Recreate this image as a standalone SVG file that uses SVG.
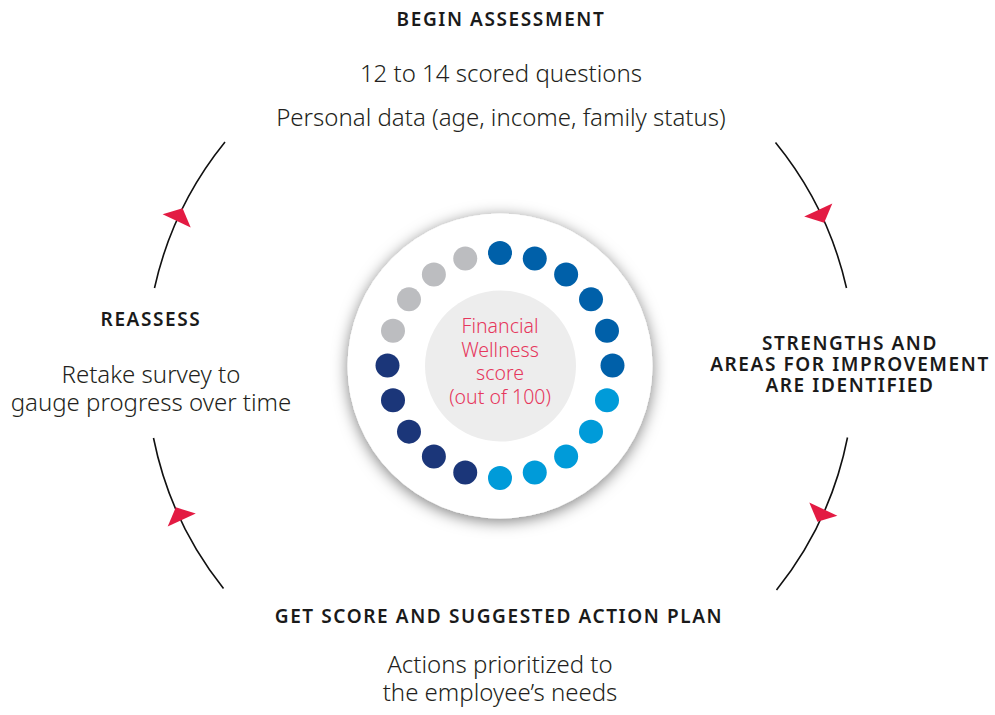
<svg xmlns="http://www.w3.org/2000/svg" width="995" height="715" viewBox="0 0 995 715">
  <defs>
    <style>
      .head { font-family: "Noto Sans", "Open Sans", sans-serif; font-weight: 600; font-size: 19px; letter-spacing: 1.6px; fill: #1a1a1a; text-anchor: middle; }
      .body { font-family: "Noto Sans", "Open Sans", sans-serif; font-weight: 300; font-size: 24px; fill: #231f20; text-anchor: middle; }
      .core { font-family: "Noto Sans", "Open Sans", sans-serif; font-weight: 300; font-size: 19.5px; fill: #E6375C; text-anchor: middle; }
      .arc { fill: none; stroke: #111; stroke-width: 1.6; }
      .tip { fill: #E31B43; }
      .mid { fill: #0060A9; }
      .light { fill: #009BD9; }
      .navy { fill: #1B3679; }
      .grey { fill: #BCBDC0; }
    </style>
    <filter id="halo" x="-30%" y="-30%" width="160%" height="160%">
      <feDropShadow dx="0" dy="3" stdDeviation="7.5" flood-color="#000" flood-opacity="0.5"/>
    </filter>
    <!-- red wedge, tip pointing along local -y -->
    <path id="wedge" class="tip" d="M0,-8 L15.5,6 L-15.5,6 Z"/>
  </defs>

  <rect width="995" height="715" fill="#fff"/>

  <!-- cycle connectors: arcs of one large circle with red direction wedges -->
  <g id="connectors">
    <path class="arc" d="M775.5,142.5 A354,354 0 0 1 846.5,288"/>
    <path class="arc" d="M847.5,437.5 A354,354 0 0 1 776.5,590"/>
    <path class="arc" d="M223.5,588.5 A354,354 0 0 1 153.5,438"/>
    <path class="arc" d="M154.5,288 A354,354 0 0 1 225,142"/>
    <use href="#wedge" transform="translate(820.8,215.4) rotate(155)"/>
    <use href="#wedge" transform="translate(820.8,514.6) rotate(205)"/>
    <use href="#wedge" transform="translate(179.2,514.6) rotate(335)"/>
    <use href="#wedge" transform="translate(179.2,215.4) rotate(25)"/>
  </g>

  <!-- centre dial -->
  <g id="score-dial">
    <circle cx="500" cy="366" r="152.5" fill="#fff" filter="url(#halo)"/>
    <circle cx="500.5" cy="366" r="75.5" fill="#EDEDED"/>
    <circle class="mid" cx="500" cy="253" r="12"/>
    <circle class="mid" cx="534.76" cy="258.5" r="12"/>
    <circle class="mid" cx="566.13" cy="274.49" r="12"/>
    <circle class="mid" cx="591.01" cy="299.37" r="12"/>
    <circle class="mid" cx="607" cy="330.74" r="12"/>
    <circle class="mid" cx="612.5" cy="365.5" r="12"/>
    <circle class="light" cx="607" cy="400.26" r="12"/>
    <circle class="light" cx="591.01" cy="431.63" r="12"/>
    <circle class="light" cx="566.13" cy="456.51" r="12"/>
    <circle class="light" cx="534.76" cy="472.5" r="12"/>
    <circle class="light" cx="500" cy="478" r="12"/>
    <circle class="navy" cx="465.24" cy="472.5" r="12"/>
    <circle class="navy" cx="433.87" cy="456.51" r="12"/>
    <circle class="navy" cx="408.99" cy="431.63" r="12"/>
    <circle class="navy" cx="393" cy="400.26" r="12"/>
    <circle class="navy" cx="387.5" cy="365.5" r="12"/>
    <circle class="grey" cx="393" cy="330.74" r="12"/>
    <circle class="grey" cx="408.99" cy="299.37" r="12"/>
    <circle class="grey" cx="433.87" cy="274.49" r="12"/>
    <circle class="grey" cx="465.24" cy="258.5" r="12"/>
    <text class="core"><tspan x="500" y="333">Financial</tspan><tspan x="500" y="357">Wellness</tspan><tspan x="500" y="380">score</tspan><tspan x="500" y="404">(out of 100)</tspan></text>
  </g>

  <g id="begin-assessment">
    <text class="head" x="501" y="26">BEGIN ASSESSMENT</text>
    <text class="body" x="501" y="82">12 to 14 scored questions</text>
    <text class="body" x="501" y="126">Personal data (age, income, family status)</text>
  </g>

  <g id="strengths">
    <text class="head"><tspan x="850" y="350">STRENGTHS AND</tspan><tspan x="850" y="371">AREAS FOR IMPROVEMENT</tspan><tspan x="850" y="392">ARE IDENTIFIED</tspan></text>
  </g>

  <g id="action-plan">
    <text class="head" x="499" y="623">GET SCORE AND SUGGESTED ACTION PLAN</text>
    <text class="body"><tspan x="500" y="673">Actions prioritized to</tspan><tspan x="500" y="701">the employee’s needs</tspan></text>
  </g>

  <g id="reassess">
    <text class="head" x="151" y="326">REASSESS</text>
    <text class="body"><tspan x="151" y="383">Retake survey to</tspan><tspan x="151" y="411">gauge progress over time</tspan></text>
  </g>
</svg>
